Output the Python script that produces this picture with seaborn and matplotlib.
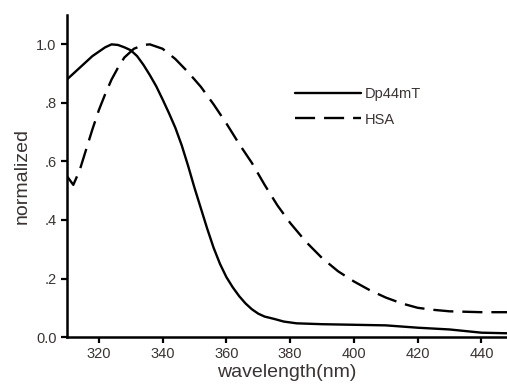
import matplotlib
matplotlib.use("Agg")
import matplotlib.pyplot as plt
import seaborn as sns
import pandas as pd

dp_wl = [310, 312, 314, 316, 318, 320, 322, 324, 326, 328, 330, 332, 334, 336, 338, 340,
         342, 344, 346, 348, 350, 352, 354, 356, 358, 360, 362, 364, 366, 368, 370, 372,
         375, 378, 382, 390, 400, 410, 420, 430, 440, 448]
dp_val = [0.88, 0.90, 0.92, 0.94, 0.96, 0.975, 0.99, 1.0, 0.998, 0.99, 0.98, 0.96, 0.93,
          0.895, 0.857, 0.812, 0.765, 0.715, 0.655, 0.585, 0.51, 0.44, 0.37, 0.305, 0.25,
          0.205, 0.17, 0.14, 0.115, 0.095, 0.08, 0.07, 0.062, 0.053, 0.047, 0.044, 0.042,
          0.040, 0.032, 0.026, 0.015, 0.013]

hsa_wl = [310, 312, 314, 316, 318, 320, 322, 324, 326, 328, 331, 334, 336, 340, 344, 348,
          352, 356, 360, 364, 368, 372, 376, 380, 385, 390, 395, 400, 405, 410, 415, 420,
          425, 430, 440, 448]
hsa_val = [0.55, 0.52, 0.57, 0.64, 0.71, 0.775, 0.83, 0.88, 0.92, 0.955, 0.985, 0.998,
           1.0, 0.985, 0.95, 0.905, 0.855, 0.795, 0.73, 0.66, 0.595, 0.52, 0.45, 0.39,
           0.325, 0.27, 0.225, 0.19, 0.16, 0.135, 0.115, 0.10, 0.093, 0.088, 0.085, 0.085]

series_names = ["Dp44mT", "HSA"]
x_ticks = [320, 340, 360, 380, 400, 420, 440]
y_ticks = [0.0, 0.2, 0.4, 0.6, 0.8, 1.0]
y_ticklabels = ["0.0", ".2", ".4", ".6", ".8", "1.0"]

sns.set_style("ticks")
plt.rcParams["font.family"] = ["Liberation Sans", "DejaVu Sans"]

fig = plt.figure(figsize=(5.07, 3.87), dpi=100)
ax = fig.add_axes([0.132, 0.129, 0.868, 0.832])

df1 = pd.DataFrame({"wl": dp_wl, "val": dp_val})
df2 = pd.DataFrame({"wl": hsa_wl, "val": hsa_val})
sns.lineplot(data=df1, x="wl", y="val", ax=ax, color="black", lw=1.7, label=series_names[0])
sns.lineplot(data=df2, x="wl", y="val", ax=ax, color="black", lw=1.7,
             dashes=False, label=series_names[1])
ax.lines[1].set_dashes((8.5, 3.8))

ax.set_xlim(310, 448)
ax.set_ylim(0, 1.1)
ax.set_xticks(x_ticks)
ax.set_yticks(y_ticks)
ax.set_yticklabels(y_ticklabels)
tc = "#3a3333"
ax.tick_params(axis="both", labelsize=10.5, colors=tc, width=1.6, length=4, direction="out")
ax.tick_params(axis="both", color="black")
for s in ["top", "right"]:
    ax.spines[s].set_visible(False)
for s in ["left", "bottom"]:
    ax.spines[s].set_linewidth(1.8)
    ax.spines[s].set_color("black")
ax.set_xlabel("wavelength(nm)", fontsize=14, color=tc, labelpad=2)
ax.set_ylabel("normalized", fontsize=14, color=tc, labelpad=4)

leg = ax.legend(loc="upper left", bbox_to_anchor=(0.505, 0.795), frameon=False,
                fontsize=10.5, handlelength=4.5, handletextpad=0.3, labelspacing=0.8,
                borderaxespad=0)
for t in leg.get_texts():
    t.set_color(tc)

fig.savefig("out.png", dpi=100)
